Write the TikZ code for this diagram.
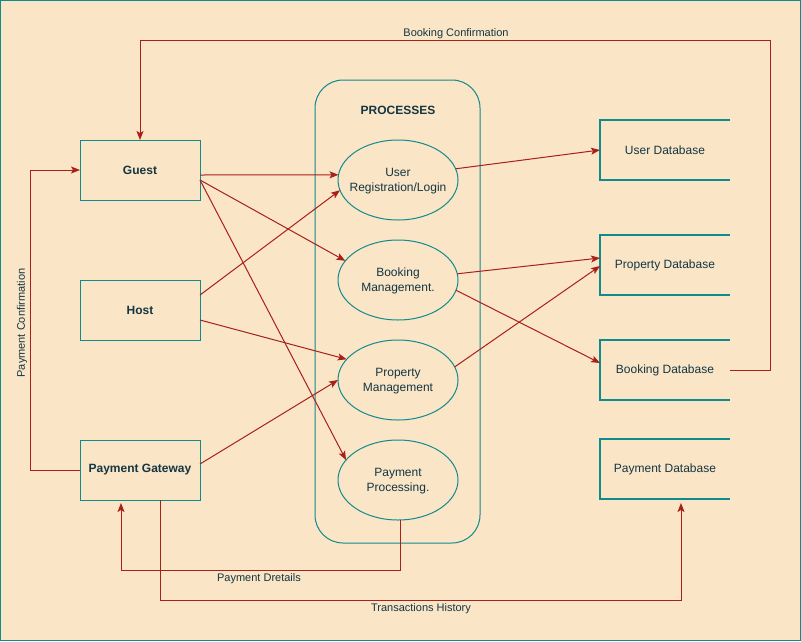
\documentclass[tikz,border=0pt]{standalone}
\usepackage{fontspec}
\setmainfont{Liberation Sans}
\usetikzlibrary{arrows.meta,calc,shapes.geometric}
\definecolor{bgc}{HTML}{FAE5C7}
\definecolor{tealc}{HTML}{0F8B8D}
\definecolor{txtc}{HTML}{143642}
\definecolor{edgec}{HTML}{A8201A}
\begin{document}
\begin{tikzpicture}[x=1pt,y=-1pt,
  every node/.style={text=txtc, font=\fontsize{12}{14}\selectfont, inner sep=0pt, outer sep=0pt},
  ent/.style={draw=tealc, line width=1pt, minimum width=120pt, minimum height=60pt, font=\fontsize{12}{14}\selectfont\bfseries},
  procshape/.style={ellipse, draw=tealc, line width=1pt, minimum width=120pt, minimum height=80pt},
  proclab/.style={align=center, font=\fontsize{12}{15}\selectfont, yshift=-1pt},
  dbshape/.style={minimum width=130pt, minimum height=60pt},
  dbline/.style={draw=tealc, line width=2pt},
  flow/.style={draw=edgec, line width=1pt, -{Stealth[length=9pt,width=7pt,inset=2pt]}},
  lab/.style={font=\fontsize{11}{13}\selectfont}]
\useasboundingbox (0,0) rectangle (801,641);
\fill[bgc] (0,0) rectangle (801,641);
\draw[tealc, line width=1pt] (0.5,0.5) rectangle (800.5,640.5);

% processes container
\node[draw=tealc, line width=1pt, rounded corners=28pt, minimum width=165pt, minimum height=463pt] (pbox) at (397.5,311.5) {};
\node[font=\fontsize{12}{14}\selectfont\bfseries] (ptitle) at (398,110) {PROCESSES};

% entities
\node[ent] (guest) at (140,170) {Guest};
\node[ent] (host) at (140,310) {Host};
\node[ent] (pg) at (140,470) {Payment Gateway};

% processes
\node[procshape, label={[proclab]center:User\\Registration/Login}] (ureg) at (398,180) {};
\node[procshape, label={[proclab]center:Booking\\Management.}] (book) at (398,280) {};
\node[procshape, label={[proclab]center:Property\\Management}] (prop) at (398,380) {};
\node[procshape, label={[proclab]center:Payment\\Processing.}] (pay) at (398,480) {};

% data stores
\node[dbshape] (udb) at (665,150) {User Database};
\node[dbshape] (propdb) at (665,265) {Property Database};
\node[dbshape] (bdb) at (665,370) {Booking Database};
\node[dbshape] (paydb) at (665,469) {Payment Database};
\foreach \d in {udb,propdb,bdb,paydb}{
  \draw[dbline] (\d.north east) -- (\d.north west) -- (\d.south west) -- (\d.south east);
}

% flows
\draw[flow] ($(guest.east)+(0,5)$) -- (ureg.175);
\draw[flow] ($(guest.east)+(0,10)$) -- (book.160);
\draw[flow] ($(guest.east)+(0,10)$) -- (pay.159);
\draw[flow] ($(host.east)+(0,-15)$) -- (ureg.190);
\draw[flow] ($(host.east)+(0,10)$) -- (prop.158);
\draw[flow] ($(pg.east)+(0,-6)$) -- (prop.west);
\draw[flow] (ureg.11) -- (udb.west);
\draw[flow] (book.6) -- ($(propdb.west)+(0,-7)$);
\draw[flow] (book.350) -- ($(bdb.west)+(0,-7)$);
\draw[flow] (prop.13) -- ($(propdb.west)+(0,1)$);

\draw[flow] (bdb.east) -- ++(40,0) |- ($(guest.north)+(0,-100)$) -- (guest.north);
\draw[flow] (pg.west) -- ++(-50,0) |- (guest.west);
\draw[flow] ($(pay.south)+(2,0)$) -- ++(0,50) -| ($(pg.south)+(-19,3)$);
\draw[flow] ($(pg.south)+(20,0)$) -- ++(0,100) -| ($(paydb.south)+(16,4)$);

% flow labels
\node[lab] (lbc) at (456,33.5) {Booking Confirmation};
\node[lab, rotate=90] (lpc) at (22,323) {Payment Confirmation};
\node[lab] (lpd) at (259,578.5) {Payment Dretails};
\node[lab] (lth) at (421,608.5) {Transactions History};
\end{tikzpicture}
\end{document}
